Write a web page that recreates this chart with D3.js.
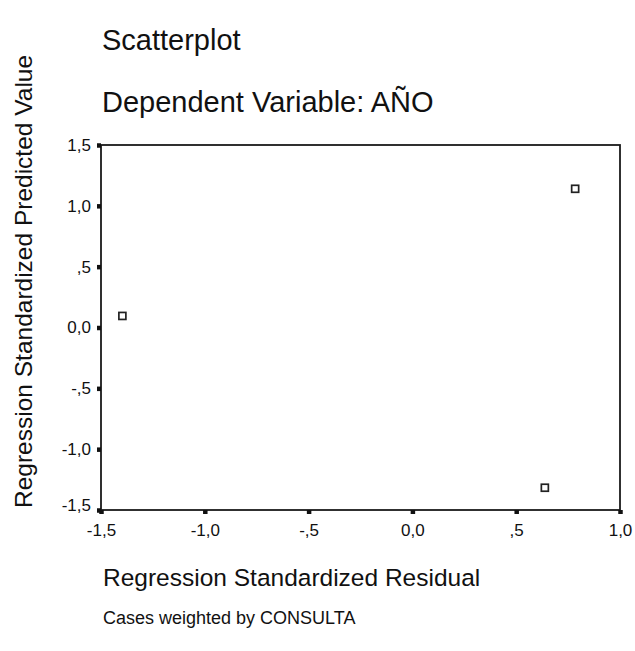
<!DOCTYPE html>
<html>
<head>
<meta charset="utf-8">
<script src="https://cdn.jsdelivr.net/npm/d3@7"></script>
<style>
  html, body { margin: 0; padding: 0; background: #fff; }
  svg text { font-family: "Liberation Sans", Arial, sans-serif; fill: #111; }
</style>
</head>
<body>
<svg id="chart" width="635" height="651"></svg>
<script>
// Data
const residual = [-1.397, 0.784, 0.638];   // Regression Standardized Residual
const predicted = [0.095, 1.14, -1.317];   // Regression Standardized Predicted Value
const xTicks = [-1.5, -1.0, -0.5, 0.0, 0.5, 1.0];
const yTicks = [-1.5, -1.0, -0.5, 0.0, 0.5, 1.0, 1.5];
const xTickLabels = ["-1,5", "-1,0", "-,5", "0,0", ",5", "1,0"];
const yTickLabels = ["-1,5", "-1,0", "-,5", "0,0", ",5", "1,0", "1,5"];

(function () {
const svg = d3.select("#chart");
const mLeft = 101, mRight = 620, mTop = 145, mBottom = 510;
const ff = '"Liberation Sans", Arial, sans-serif';

const x = d3.scaleLinear().domain([-1.5, 1.0]).range([mLeft, mRight]);
const y = d3.scaleLinear().domain([-1.5, 1.5]).range([mBottom, mTop]);

// Frame
svg.append("rect")
  .attr("x", mLeft).attr("y", mTop)
  .attr("width", mRight - mLeft).attr("height", mBottom - mTop)
  .attr("fill", "none").attr("stroke", "#1a1a1a").attr("stroke-width", 1.8);

// X axis
const xAxis = d3.axisBottom(x).tickValues(xTicks)
  .tickFormat((d, i) => xTickLabels[i]).tickSize(4).tickPadding(10);
const gx = svg.append("g").attr("transform", `translate(0,${mBottom})`).call(xAxis);
gx.select(".domain").remove();
gx.selectAll(".tick line").attr("stroke", "#111").attr("stroke-width", 4.5);
gx.selectAll(".tick text").attr("font-size", 17).style("font-family", ff).attr("fill", "#111");

// Y axis
const yAxis = d3.axisLeft(y).tickValues(yTicks)
  .tickFormat((d, i) => yTickLabels[i]).tickSize(4).tickPadding(6);
const gy = svg.append("g").attr("transform", `translate(${mLeft},0)`).call(yAxis);
gy.select(".domain").remove();
gy.selectAll(".tick line").attr("stroke", "#111").attr("stroke-width", 4.5);
gy.selectAll(".tick text").attr("font-size", 17).style("font-family", ff).attr("fill", "#111")
  .attr("dy", d => d === -1.5 ? "0.0em" : "0.32em");

// Points (open squares)
const s = 7;
svg.append("g").selectAll("rect")
  .data(residual.map((r, i) => ({ r, p: predicted[i] })))
  .join("rect")
  .attr("x", d => x(d.r) - s / 2)
  .attr("y", d => y(d.p) - s / 2)
  .attr("width", s).attr("height", s)
  .attr("fill", "#fff").attr("stroke", "#222").attr("stroke-width", 1.7);

// Titles
svg.append("text").attr("x", 102).attr("y", 50).attr("font-size", 29).text("Scatterplot");
svg.append("text").attr("x", 102).attr("y", 112).attr("font-size", 29).text("Dependent Variable: AÑO");

// Axis titles
svg.append("text").attr("x", 103).attr("y", 586).attr("font-size", 24.5).text("Regression Standardized Residual");
svg.append("text")
  .attr("transform", "translate(32,508) rotate(-90)")
  .attr("text-anchor", "start").attr("font-size", 24.5)
  .text("Regression Standardized Predicted Value");

// Footnote
svg.append("text").attr("x", 103).attr("y", 624).attr("font-size", 18)
  .text("Cases weighted by CONSULTA");
})();
</script>
</body>
</html>
